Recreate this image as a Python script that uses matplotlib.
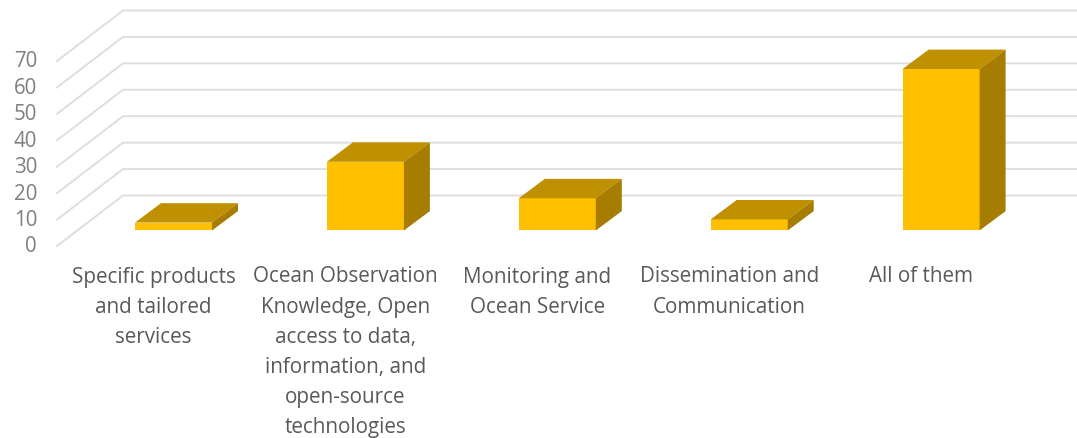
import matplotlib
matplotlib.use("Agg")
import matplotlib.pyplot as plt
from matplotlib.patches import Polygon

categories = [
    "Specific products\nand tailored\nservices",
    "Ocean Observation\nKnowledge, Open\naccess to data,\ninformation, and\nopen-source\ntechnologies",
    "Monitoring and\nOcean Service",
    "Dissemination and\nCommunication",
    "All of them",
]
values = [3, 26, 12.2, 4.2, 61.1]
ticks = [0, 10, 20, 30, 40, 50, 60, 70]

W, H = 1077, 438
PX_X = 191.9      # pixels per category
PX_Y = 2.643      # pixels per value unit
X0, Y0 = 173.5, 230.5  # pixel of first bar centre / bar base

plt.rcParams["font.family"] = ["Open Sans", "DejaVu Sans"]
fig = plt.figure(figsize=(W / 100, H / 100), dpi=100)
ax = fig.add_axes([0, 0, 1, 1])
ax.set_xlim(-X0 / PX_X, (W - X0) / PX_X)
ax.set_ylim((Y0 - H) / PX_Y, Y0 / PX_Y)
ax.axis("off")

dx = 26 / PX_X      # depth offset
dy = 19.4 / PX_Y
half = 38.5 / PX_X  # half bar width

# wall / floor grid
wall_x0 = (57 - X0) / PX_X
wall_x1 = (123 - X0) / PX_X
front_off = (Y0 - 246) / PX_Y
back_off = (Y0 - 195.5) / PX_Y
for t in ticks:
    ax.plot([wall_x0, wall_x1, (W + 5 - X0) / PX_X],
            [t + front_off, t + back_off, t + back_off],
            color="#dedede", lw=1.4, solid_joinstyle="miter", zorder=1)
    ax.annotate(str(t), xy=(wall_x0, t + front_off), xytext=(-20, -1),
                textcoords="offset pixels", ha="right", va="center",
                color="#7f7f7f", fontsize=14.8, zorder=3)

# bars
for i, v in enumerate(values):
    l, r = i - half, i + half
    ax.add_patch(Polygon([(l, 0), (r, 0), (r, v), (l, v)], fc="#FFC000", ec="none", zorder=2))
    ax.add_patch(Polygon([(l, v), (r, v), (r + dx, v + dy), (l + dx, v + dy)],
                         fc="#BF9000", ec="none", zorder=2))
    ax.add_patch(Polygon([(r, 0), (r + dx, dy), (r + dx, v + dy), (r, v)],
                         fc="#A67D00", ec="none", zorder=2))
    ax.annotate(categories[i], xy=(i, 0), xytext=(-20, -36), textcoords="offset pixels",
                ha="center", va="top", color="#595959", fontsize=14.9,
                linespacing=1.565, zorder=3)

fig.savefig("out.png", dpi=100)
